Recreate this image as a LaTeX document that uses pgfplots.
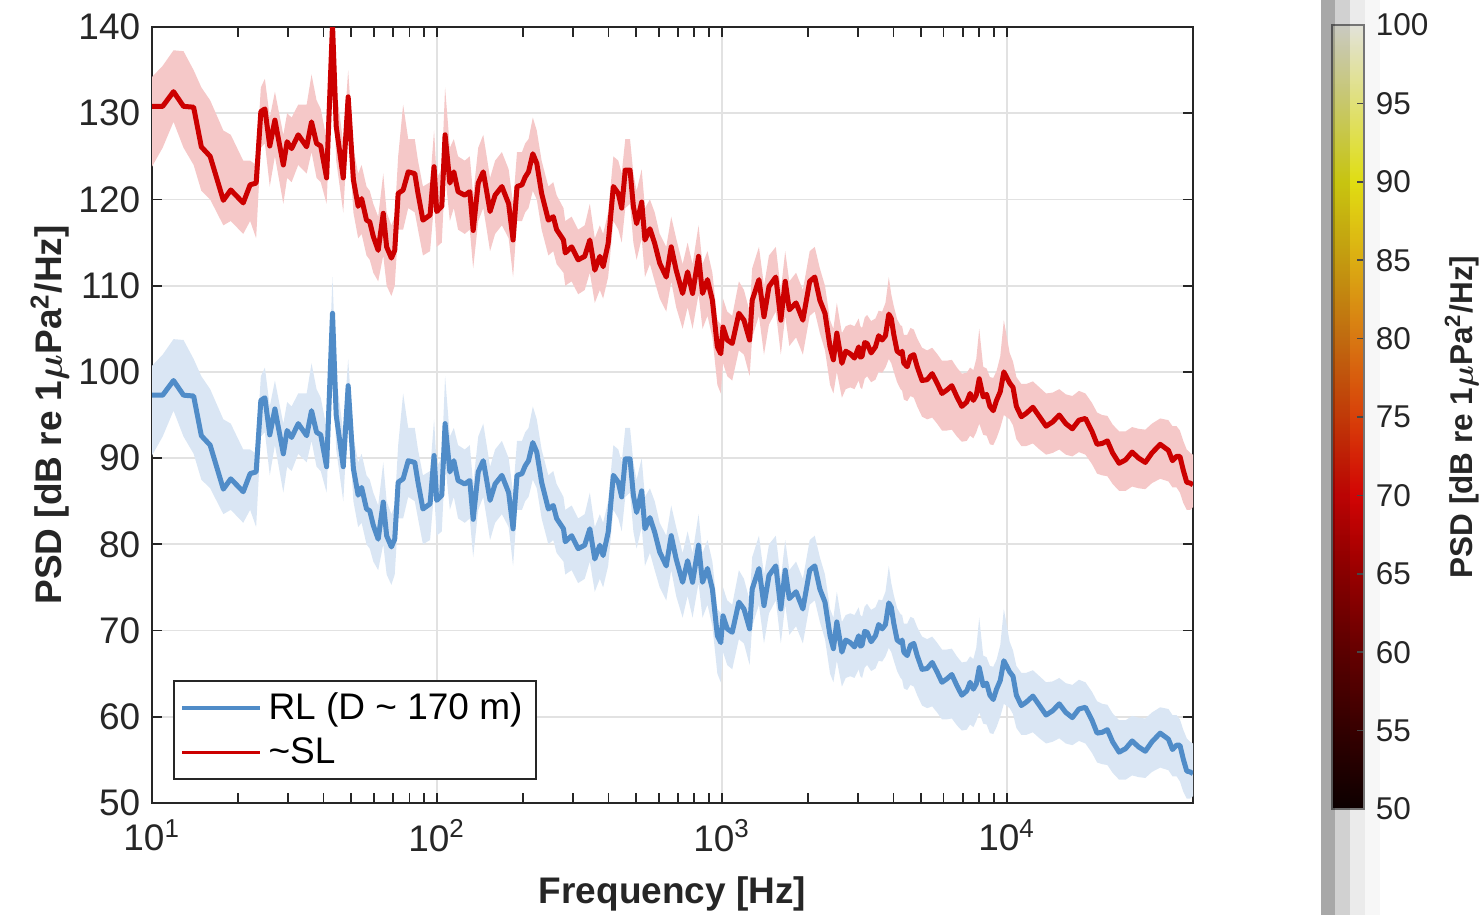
\documentclass[border=0pt]{standalone}
\usepackage{fontspec}
\setmainfont{Liberation Sans}
\usepackage{pgfplots}
\usepackage{pgfplotstable}
\pgfplotsset{compat=1.18}
\usepgfplotslibrary{fillbetween}

\definecolor{slred}{RGB}{204,0,0}
\definecolor{slband}{RGB}{245,200,200}
\definecolor{rlblue}{RGB}{80,140,200}
\definecolor{rlband}{RGB}{218,230,244}
\definecolor{gridgray}{RGB}{226,226,226}
\definecolor{axgray}{RGB}{38,38,38}

% ~SL: mean, lower and upper edge of the shaded band
\pgfplotstableread{
f m lo hi
10.0 130.8 123.8 134.2
10.9 130.8 126.0 135.5
11.9 132.5 129.0 137.3
12.9 130.8 126.0 137.2
14.0 130.7 124.0 135.0
14.9 126.1 121.0 133.0
16.0 125.0 120.0 131.5
17.8 119.9 117.0 128.0
18.9 121.1 117.5 127.5
20.9 119.6 116.0 124.5
22.1 121.7 117.5 124.5
23.2 121.9 115.5 124.0
24.1 130.2 126.0 133.0
24.9 130.5 126.5 134.0
25.9 126.2 121.5 129.5
27.0 129.2 125.0 132.5
28.9 124.0 119.5 127.5
29.8 126.7 122.5 130.0
30.9 125.9 122.0 129.5
32.6 127.5 124.0 131.0
34.9 126.1 123.0 131.0
36.3 129.0 125.5 134.5
37.8 126.5 122.5 131.5
39.1 126.2 122.0 130.5
41.0 122.5 119.5 127.0
43.0 140.3 136.0 144.5
44.3 128.5 124.5 133.0
46.9 122.5 118.5 126.5
48.8 131.9 128.5 135.0
50.9 122.3 118.5 126.0
52.9 119.2 115.5 123.0
54.4 120.1 116.0 124.0
56.6 117.6 113.5 121.5
58.1 117.4 113.0 121.0
59.8 115.7 111.5 119.5
62.2 114.1 110.5 118.0
64.8 118.4 113.5 123.0
66.6 114.5 110.0 118.5
69.2 113.2 108.8 117.0
71.1 114.1 110.0 118.0
73.1 120.7 116.5 125.0
76.1 121.1 116.5 131.0
79.3 123.2 119.0 127.0
83.6 123.0 118.5 127.0
85.8 120.7 116.5 124.5
89.3 117.6 113.5 121.5
94.6 118.2 114.0 122.0
97.7 123.8 119.5 128.0
99.8 118.6 114.5 122.5
104 119.2 115.0 123.5
106.8 127.5 123.0 133.0
111 121.9 117.5 126.0
114.6 123.2 119.0 127.0
118.6 120.9 116.5 125.0
125.2 120.5 116.0 124.5
130.4 120.9 116.5 125.0
134 116.4 112.0 120.5
139.6 121.9 117.5 126.0
145.4 123.2 119.0 127.5
149.5 120.9 116.5 125.0
153.6 118.6 114.0 122.5
160 120.5 116.0 124.5
169 121.5 117.0 125.5
178.5 119.5 115.5 123.5
185 115.3 111.0 119.5
191 121.5 117.5 125.5
198.8 121.7 117.5 125.5
204 122.6 118.5 126.5
209.6 123.2 119.0 127.0
217 125.3 121.0 129.5
224 124.2 120.0 128.0
233 120.7 116.5 124.5
246 117.6 113.5 121.5
256 118.0 114.0 122.0
263 116.5 112.5 120.5
278 115.3 111.5 119.0
282 113.8 110.0 117.5
297 114.5 110.5 118.0
313 113.0 109.0 116.5
330 113.4 109.5 117.0
344 115.3 111.5 119.5
358 111.8 108.0 115.5
373 113.4 109.5 117.0
383 112.2 108.5 116.0
399 114.9 111.0 118.5
416 121.5 117.5 125.0
433 120.7 116.5 124.5
445 119.0 115.0 123.0
458 123.4 119.0 127.0
476 123.4 119.5 127.0
489 119.2 115.0 123.0
502 117.2 113.0 121.0
523 119.7 115.5 123.5
537 115.3 111.0 119.0
559 116.6 112.5 120.0
581 114.9 110.5 118.5
605 112.6 108.5 116.0
638 111.0 107.0 114.5
664 114.5 110.5 118.0
691 111.8 107.5 115.5
728 109.1 105.0 112.5
758 111.6 107.5 115.0
789 109.1 105.0 112.5
828 113.4 109.0 117.0
855 109.1 105.0 112.5
890 110.7 106.5 114.0
926 108.3 104.0 111.5
964 102.9 98.5 106.0
991 102.1 97.5 105.5
1009 105.2 101.0 108.5
1044 103.7 99.5 107.0
1087 103.3 99.0 106.5
1147 106.8 102.5 110.5
1195 106.0 102.0 109.5
1251 103.7 99.5 107.0
1277 108.3 104.0 112.0
1349 110.7 106.5 114.5
1405 106.4 102.0 110.0
1463 109.9 105.5 113.5
1546 111.0 107.0 114.5
1610 106.0 102.0 109.5
1668 110.5 106.5 114.0
1724 107.2 103.0 110.5
1821 108.0 104.0 111.5
1924 106.0 102.0 109.5
2033 110.5 106.5 114.0
2118 111.0 107.0 114.5
2207 108.3 104.5 112.0
2300 106.8 102.5 110.0
2396 102.9 98.5 106.0
2462 101.4 97.5 105.0
2531 104.5 100.0 108.0
2637 101.0 97.0 104.5
2720 102.4 98.0 105.3
2822 102.1 98.2 105.5
2920 101.6 98.0 105.3
3020 102.9 99.0 106.2
3060 101.7 98.2 105.3
3104 101.8 98.0 105.1
3170 103.4 99.2 106.3
3233 103.3 99.5 106.6
3340 102.2 98.8 105.9
3458 102.9 99.1 106.2
3550 104.2 100.0 107.1
3651 103.7 99.9 107.0
3750 104.2 100.5 108.0
3853 106.7 101.5 111.0
3930 106.2 101.0 109.0
4012 104.3 100.0 107.6
4120 102.4 98.8 106.1
4235 102.1 98.0 105.4
4290 102.4 97.8 105.3
4350 101.0 96.8 104.3
4470 100.6 96.6 104.3
4590 101.8 97.2 105.1
4715 102.0 97.0 104.9
4845 100.6 96.0 103.9
5040 99.0 94.8 102.8
5250 99.1 94.5 102.5
5470 99.8 94.7 102.8
5690 98.7 94.0 102.1
5920 97.5 93.2 101.3
6160 97.9 93.2 101.3
6410 98.4 93.3 101.4
6680 97.1 92.5 100.5
6950 96.0 91.9 99.8
7230 96.5 92.0 99.9
7430 97.5 92.6 100.5
7630 96.7 92.3 100.2
7810 97.3 93.0 101.5
8000 99.2 94.0 105.0
8260 97.1 92.7 100.6
8490 97.4 92.6 100.4
8720 96.0 91.6 99.4
8960 95.5 91.5 99.3
9200 96.7 92.3 100.1
9480 97.7 93.5 101.8
9760 100.0 95.0 106.0
10230 98.7 94.5 102.2
10510 98.2 93.8 101.2
10800 96.0 92.2 99.4
11240 94.8 91.4 98.6
11700 95.2 91.4 98.6
12340 95.9 91.7 98.9
13020 94.8 91.0 98.2
13730 93.7 90.4 97.5
14480 94.2 90.6 97.6
15270 95.0 91.0 98.0
16100 94.0 90.4 97.4
16980 93.4 90.2 97.2
17900 94.4 90.7 97.8
18870 94.6 90.4 97.5
19900 93.1 89.3 96.4
20730 91.6 88.2 95.3
21600 91.7 88.0 95.0
22530 92.0 87.9 94.9
23500 90.6 87.0 93.9
24770 89.4 86.2 93.1
26100 89.8 86.2 93.1
27510 90.7 86.7 93.6
29000 90.0 86.5 93.4
30610 89.5 86.4 93.3
32300 90.6 87.1 94.0
34520 91.6 87.6 94.6
36900 90.9 87.3 94.4
38130 89.7 86.6 93.7
39400 90.2 86.6 93.7
40490 90.2 86.0 93.2
41600 88.6 84.8 92.0
42780 87.2 84.0 91.0
44000 87.1 84.0 90.6
45000 86.9 84.3 90.4
}\sltab

% RL (D ~ 170 m)
\pgfplotstableread{
f m lo hi
10.0 97.3 90.3 100.7
10.9 97.3 92.5 102.0
11.9 99.0 95.5 103.8
12.9 97.3 92.5 103.7
14.0 97.2 90.5 101.5
14.9 92.6 87.5 99.5
16.0 91.5 86.5 98.0
17.8 86.4 83.5 94.5
18.9 87.6 84.0 94.0
20.9 86.1 82.5 91.0
22.1 88.2 84.0 91.0
23.2 88.4 82.0 90.5
24.1 96.7 92.5 99.5
24.9 97.0 93.0 100.5
25.9 92.7 88.0 96.0
27.0 95.7 91.5 99.0
28.9 90.5 86.0 94.0
29.8 93.2 89.0 96.5
30.9 92.4 88.5 96.0
32.6 94.0 90.5 97.5
34.9 92.6 89.5 97.5
36.3 95.5 92.0 101.0
37.8 93.0 89.0 98.0
39.1 92.7 88.5 97.0
41.0 89.0 86.0 93.5
43.0 106.8 102.5 111.0
44.3 95.0 91.0 99.5
46.9 89.0 85.0 93.0
48.8 98.4 95.0 101.5
50.9 88.8 85.0 92.5
52.9 85.7 82.0 89.5
54.4 86.6 82.5 90.5
56.6 84.1 80.0 88.0
58.1 83.9 79.5 87.5
59.8 82.2 78.0 86.0
62.2 80.6 77.0 84.5
64.8 84.9 80.0 89.5
66.6 81.0 76.5 85.0
69.2 79.7 75.3 83.5
71.1 80.6 76.5 84.5
73.1 87.2 83.0 91.5
76.1 87.6 83.0 97.5
79.3 89.7 85.5 93.5
83.6 89.5 85.0 93.5
85.8 87.2 83.0 91.0
89.3 84.1 80.0 88.0
94.6 84.7 80.5 88.5
97.7 90.3 86.0 94.5
99.8 85.1 81.0 89.0
104 85.7 81.5 90.0
106.8 94.0 89.5 99.5
111 88.4 84.0 92.5
114.6 89.7 85.5 93.5
118.6 87.4 83.0 91.5
125.2 87.0 82.5 91.0
130.4 87.4 83.0 91.5
134 82.9 78.5 87.0
139.6 88.4 84.0 92.5
145.4 89.7 85.5 94.0
149.5 87.4 83.0 91.5
153.6 85.1 80.5 89.0
160 87.0 82.5 91.0
169 88.0 83.5 92.0
178.5 86.0 82.0 90.0
185 81.8 77.5 86.0
191 88.0 84.0 92.0
198.8 88.2 84.0 92.0
204 89.1 85.0 93.0
209.6 89.7 85.5 93.5
217 91.8 87.5 96.0
224 90.7 86.5 94.5
233 87.2 83.0 91.0
246 84.1 80.0 88.0
256 84.5 80.5 88.5
263 83.0 79.0 87.0
278 81.8 78.0 85.5
282 80.3 76.5 84.0
297 81.0 77.0 84.5
313 79.5 75.5 83.0
330 79.9 76.0 83.5
344 81.8 78.0 86.0
358 78.3 74.5 82.0
373 79.9 76.0 83.5
383 78.7 75.0 82.5
399 81.4 77.5 85.0
416 88.0 84.0 91.5
433 87.2 83.0 91.0
445 85.5 81.5 89.5
458 89.9 85.5 93.5
476 89.9 86.0 93.5
489 85.7 81.5 89.5
502 83.7 79.5 87.5
523 86.2 82.0 90.0
537 81.8 77.5 85.5
559 83.1 79.0 86.5
581 81.4 77.0 85.0
605 79.1 75.0 82.5
638 77.5 73.5 81.0
664 81.0 77.0 84.5
691 78.3 74.0 82.0
728 75.6 71.5 79.0
758 78.1 74.0 81.5
789 75.6 71.5 79.0
828 79.9 75.5 83.5
855 75.6 71.5 79.0
890 77.2 73.0 80.5
926 74.8 70.5 78.0
964 69.4 65.0 72.5
991 68.6 64.0 72.0
1009 71.7 67.5 75.0
1044 70.2 66.0 73.5
1087 69.8 65.5 73.0
1147 73.3 69.0 77.0
1195 72.5 68.5 76.0
1251 70.2 66.0 73.5
1277 74.8 70.5 78.5
1349 77.2 73.0 81.0
1405 72.9 68.5 76.5
1463 76.4 72.0 80.0
1546 77.5 73.5 81.0
1610 72.5 68.5 76.0
1668 77.0 73.0 80.5
1724 73.7 69.5 77.0
1821 74.5 70.5 78.0
1924 72.5 68.5 76.0
2033 77.0 73.0 80.5
2118 77.5 73.5 81.0
2207 74.8 71.0 78.5
2300 73.3 69.0 76.5
2396 69.4 65.0 72.5
2462 67.9 64.0 71.5
2531 71.0 66.5 74.5
2637 67.5 63.5 71.0
2720 68.9 64.5 71.8
2822 68.6 64.7 72.0
2920 68.1 64.5 71.8
3020 69.4 65.5 72.7
3060 68.2 64.7 71.8
3104 68.3 64.5 71.6
3170 69.9 65.7 72.8
3233 69.8 66.0 73.1
3340 68.7 65.3 72.4
3458 69.4 65.6 72.7
3550 70.7 66.5 73.6
3651 70.2 66.4 73.5
3750 70.7 67.0 74.5
3853 73.2 68.0 77.5
3930 72.7 67.5 75.5
4012 70.8 66.5 74.1
4120 68.9 65.3 72.6
4235 68.6 64.5 71.9
4290 68.9 64.3 71.8
4350 67.5 63.3 70.8
4470 67.1 63.1 70.8
4590 68.3 63.7 71.6
4715 68.5 63.5 71.4
4845 67.1 62.5 70.4
5040 65.5 61.3 69.3
5250 65.6 61.0 69.0
5470 66.3 61.2 69.3
5690 65.2 60.5 68.6
5920 64.0 59.7 67.8
6160 64.4 59.7 67.8
6410 64.9 59.8 67.9
6680 63.6 59.0 67.0
6950 62.5 58.4 66.3
7230 63.0 58.5 66.4
7430 64.0 59.1 67.0
7630 63.2 58.8 66.7
7810 63.8 59.5 68.0
8000 65.7 60.5 71.5
8260 63.6 59.2 67.1
8490 63.9 59.1 66.9
8720 62.5 58.1 65.9
8960 62.0 58.0 65.8
9200 63.2 58.8 66.6
9480 64.2 60.0 68.3
9760 66.5 61.5 72.5
10230 65.2 61.0 68.7
10510 64.7 60.3 67.7
10800 62.5 58.7 65.9
11240 61.3 57.9 65.1
11700 61.7 57.9 65.1
12340 62.4 58.2 65.4
13020 61.3 57.5 64.7
13730 60.2 56.9 64.0
14480 60.7 57.1 64.1
15270 61.5 57.5 64.5
16100 60.5 56.9 63.9
16980 59.9 56.7 63.7
17900 60.9 57.2 64.3
18870 61.1 56.9 64.0
19900 59.6 55.8 62.9
20730 58.1 54.7 61.8
21600 58.2 54.5 61.5
22530 58.5 54.4 61.4
23500 57.1 53.5 60.4
24770 55.9 52.7 59.6
26100 56.3 52.7 59.6
27510 57.2 53.2 60.1
29000 56.5 53.0 59.9
30610 56.0 52.9 59.8
32300 57.1 53.6 60.5
34520 58.1 54.1 61.1
36900 57.4 53.8 60.9
38130 56.2 53.1 60.2
39400 56.7 53.1 60.2
40490 56.7 52.5 59.7
41600 55.1 51.3 58.5
42780 53.7 50.5 57.5
44000 53.6 50.5 57.1
45000 53.4 50.8 56.9
}\rltab

\begin{document}
\begin{tikzpicture}
% 1 px of the reference = 0.3pt; origin at the lower left corner of the axis box
\begin{axis}[
    at={(0,0)}, anchor=south west,
    scale only axis, width=312.3pt, height=232.8pt,
    xmode=log, xmin=10, xmax=45000,
    ymin=50, ymax=140,
    xtick={10,100,1000,10000},
    xticklabels={10\textsuperscript{1},10\textsuperscript{2},10\textsuperscript{3},10\textsuperscript{4}},
    ytick={50,60,...,140},
    minor tick num=0,
    grid=major,
    major grid style={gridgray, line width=0.5pt},
    tick align=inside, major tick length=3pt,
    axis line style={axgray, line width=0.5pt},
    every tick/.style={axgray, line width=0.5pt},
    tick label style={font=\fontsize{11.1}{13}\selectfont, text=axgray},
    /pgf/number format/assume math mode=true,
    xticklabel style={yshift=-1.5pt},
    xlabel={\textbf{Frequency [Hz]}},
    xlabel style={font=\fontsize{11.1}{13}\selectfont, text=axgray,
        at={(axis description cs:0.5,0)}, anchor=center, yshift=-27.3pt},
    ylabel={\textbf{PSD [dB re 1{\boldmath$\mu$}Pa\textsuperscript{2}/Hz]}},
    ylabel style={font=\fontsize{11.1}{13}\selectfont, text=axgray,
        at={(axis description cs:0,0.5)}, anchor=center, yshift=30.6pt},
    legend style={at={(axis description cs:0.0202,0.0296)}, anchor=south west,
        font=\fontsize{11.1}{13}\selectfont, draw=axgray, line width=0.5pt,
        inner xsep=2pt, inner ysep=1.3pt, row sep=0pt},
    legend cell align=left,
    legend image code/.code={\draw[#1, line width=1pt] (0pt,0pt) -- (23.4pt,0pt);},
    point meta min=50, point meta max=100,
    colormap={hotpsd}{rgb255=(15,0,0) rgb255=(60,0,0) rgb255=(110,0,0)
        rgb255=(165,0,0) rgb255=(228,5,5) rgb255=(235,70,10) rgb255=(235,130,20)
        rgb255=(238,188,20) rgb255=(244,240,20) rgb255=(244,244,130) rgb255=(246,246,236)},
    colorbar,
    colorbar style={
        at={(parent axis.north east)}, anchor=north west,
        xshift=33.2pt, yshift=0.6pt,
        scale only axis, width=9.6pt, height=235.2pt,
        ytick={50,55,...,100},
        ytick pos=right, yticklabel pos=right,
        tick align=inside, major tick length=2pt,
        axis line style={gray, line width=0.5pt},
        every tick/.style={gray!60!black, line width=0.5pt},
        tick label style={font=\fontsize{9.45}{11}\selectfont, text=axgray},
        /pgf/number format/assume math mode=true,
        ylabel={\textbf{PSD [dB re 1{\boldmath$\mu$}Pa\textsuperscript{2}/Hz]}},
        ylabel style={font=\fontsize{9.45}{11}\selectfont, text=axgray,
            at={(axis description cs:1,0.5)}, anchor=center, yshift=-29.4pt},
    },
]
% shaded bands
\addplot[draw=none, name path=rlhi, forget plot] table[x=f, y=hi] {\rltab};
\addplot[draw=none, name path=rllo, forget plot] table[x=f, y=lo] {\rltab};
\addplot[rlband, forget plot] fill between[of=rlhi and rllo];
\addplot[draw=none, name path=slhi, forget plot] table[x=f, y=hi] {\sltab};
\addplot[draw=none, name path=sllo, forget plot] table[x=f, y=lo] {\sltab};
\addplot[slband, forget plot] fill between[of=slhi and sllo];
% mean curves
\addplot[rlblue, line width=1.5pt, line join=round] table[x=f, y=m] {\rltab};
\addlegendentry{RL (D \textasciitilde{} 170 m)}
\addplot[slred, line width=1.5pt, line join=round] table[x=f, y=m] {\sltab};
\addlegendentry{\textasciitilde SL}
\end{axis}
% grey strips behind the colour bar in the reference
\fill[black, opacity=0.34] (350.7pt,-33.6pt) rectangle (354.9pt,240.9pt);
\fill[black, opacity=0.18] (354.9pt,-33.6pt) rectangle (359.4pt,240.9pt);
\fill[black, opacity=0.08] (359.4pt,-33.6pt) rectangle (363.9pt,240.9pt);
\fill[black, opacity=0.03] (363.9pt,-33.6pt) rectangle (368.4pt,240.9pt);
\pgfresetboundingbox
\useasboundingbox (-45.6pt,-33.6pt) rectangle (399pt,240.9pt);
\end{tikzpicture}
\end{document}
